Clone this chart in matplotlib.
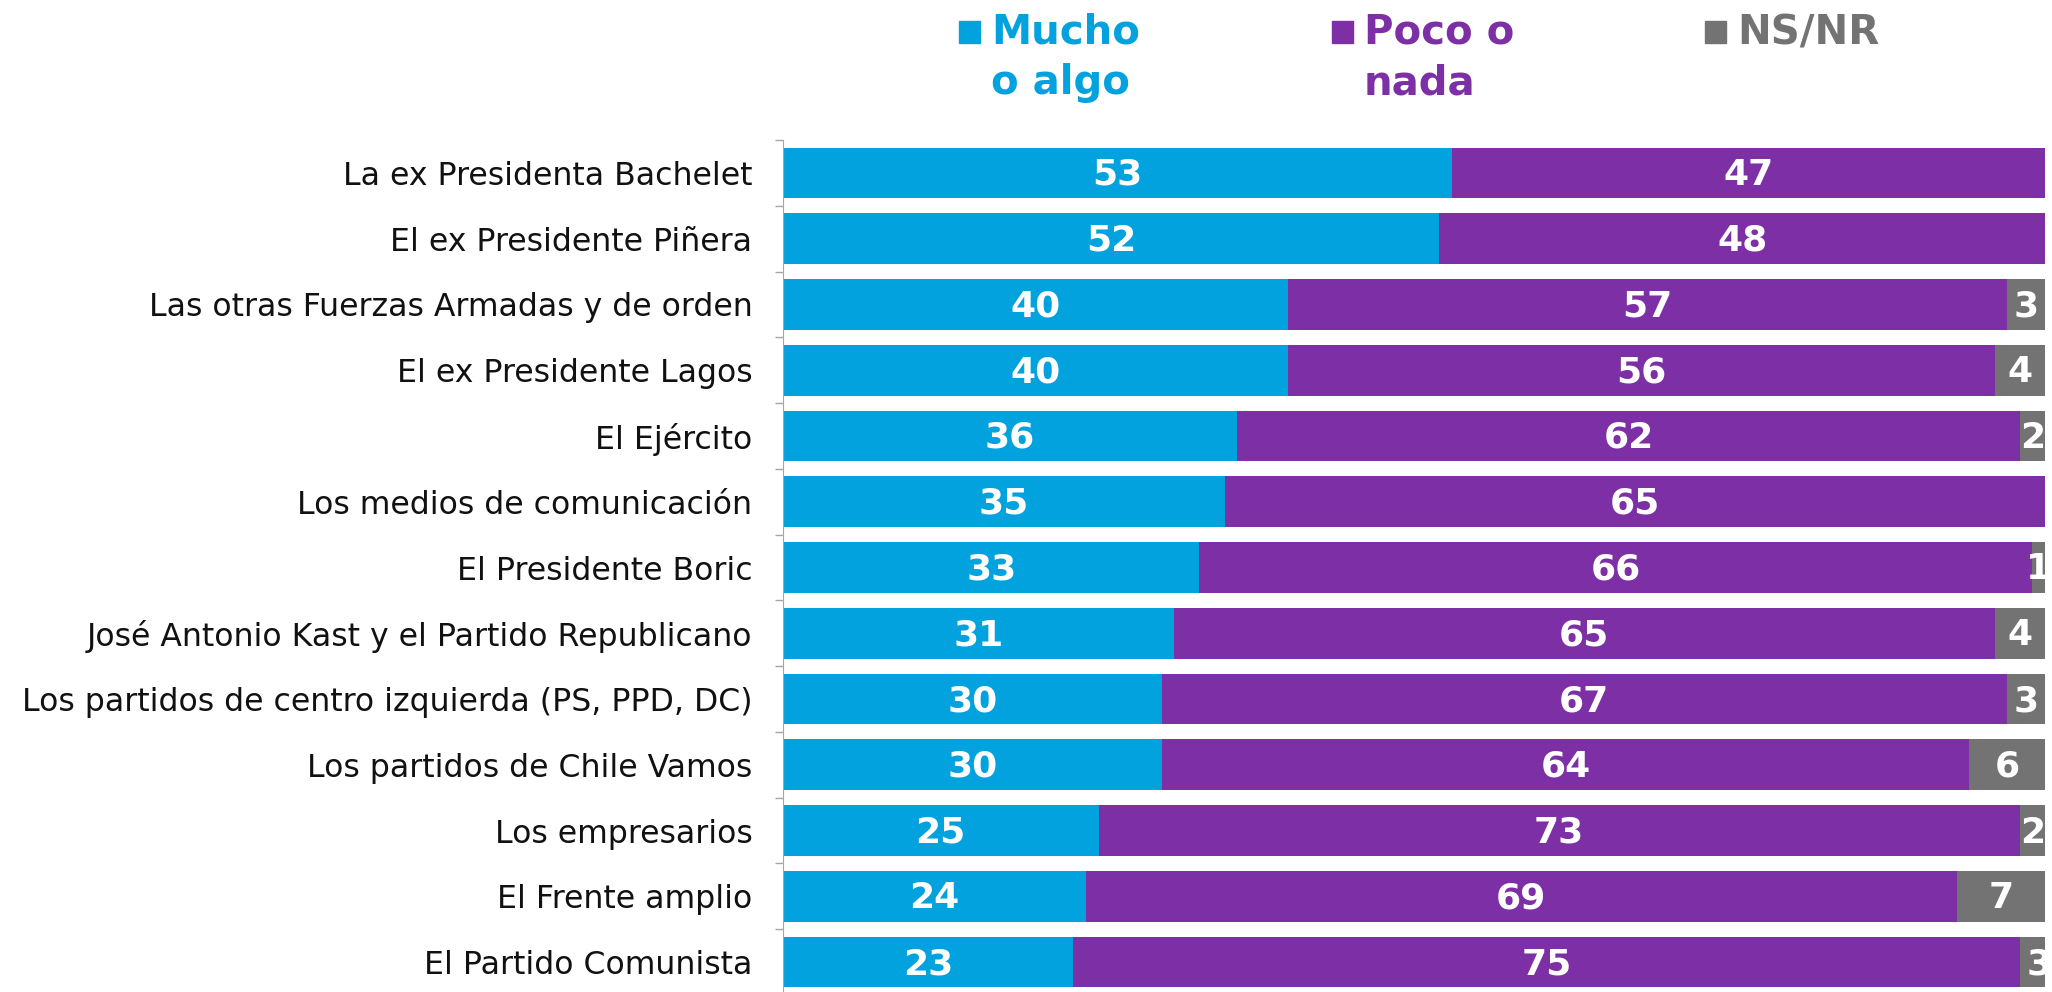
import matplotlib.pyplot as plt
from matplotlib.patches import Rectangle

categorias = [
    'La ex Presidenta Bachelet',
    'El ex Presidente Piñera',
    'Las otras Fuerzas Armadas y de orden',
    'El ex Presidente Lagos',
    'El Ejército',
    'Los medios de comunicación',
    'El Presidente Boric',
    'José Antonio Kast y el Partido Republicano',
    'Los partidos de centro izquierda (PS, PPD, DC)',
    'Los partidos de Chile Vamos',
    'Los empresarios',
    'El Frente amplio',
    'El Partido Comunista',
]
mucho = [53, 52, 40, 40, 36, 35, 33, 31, 30, 30, 25, 24, 23]
poco = [47, 48, 57, 56, 62, 65, 66, 65, 67, 64, 73, 69, 75]
nsnr = [0, 0, 3, 4, 2, 0, 1, 4, 3, 6, 2, 7, 3]

series = ['Mucho\no algo', 'Poco o\nnada', 'NS/NR']
colores = ['#02A2DF', '#7D2FA5', '#737373']

W, H = 2052, 992
fig = plt.figure(figsize=(W / 100, H / 100), dpi=100)
ax = fig.add_axes([783 / W, -3 / H, (2045 - 783) / W, (995 - 140) / H])

y = list(range(len(categorias)))
left = [0] * len(y)
for vals, col in zip([mucho, poco, nsnr], colores):
    ax.barh(y, vals, left=left, height=0.77, color=col, edgecolor='none')
    for i, v in enumerate(vals):
        if v > 0:
            ax.text(left[i] + v / 2, i + 0.03, str(v), ha='center', va='center',
                    color='white', fontsize=26, fontweight='bold',
                    clip_on=False)
    left = [a + b for a, b in zip(left, vals)]

ax.set_xlim(0, 100)
ax.set_ylim(len(y) - 0.5, -0.5)
ax.set_yticks(y)
ax.set_yticklabels(categorias, fontsize=22.7, family='DejaVu Sans')
ax.set_yticks([i - 0.5 for i in range(len(y) + 1)], minor=True)
ax.tick_params(axis='y', which='major', length=0, pad=22, colors='#111111')
ax.tick_params(axis='y', which='minor', length=6, color='#A6A6A6', width=1)
ax.set_xticks([])
for s in ['top', 'right', 'bottom']:
    ax.spines[s].set_visible(False)
ax.spines['left'].set_color('#A6A6A6')

# leyenda manual
leg_x = [959, 1332, 1705]
for lx, txt, col in zip(leg_x, series, colores):
    fig.patches.append(Rectangle((lx / W, 1 - 43 / H), 21 / W, 22 / H,
                                 transform=fig.transFigure, color=col))
    fig.text((lx + 32) / W, 1 - 13 / H, txt, color=col, fontsize=29,
             fontweight='bold', ha='left', va='top', linespacing=1.33)

fig.savefig('out.png', dpi=100)
